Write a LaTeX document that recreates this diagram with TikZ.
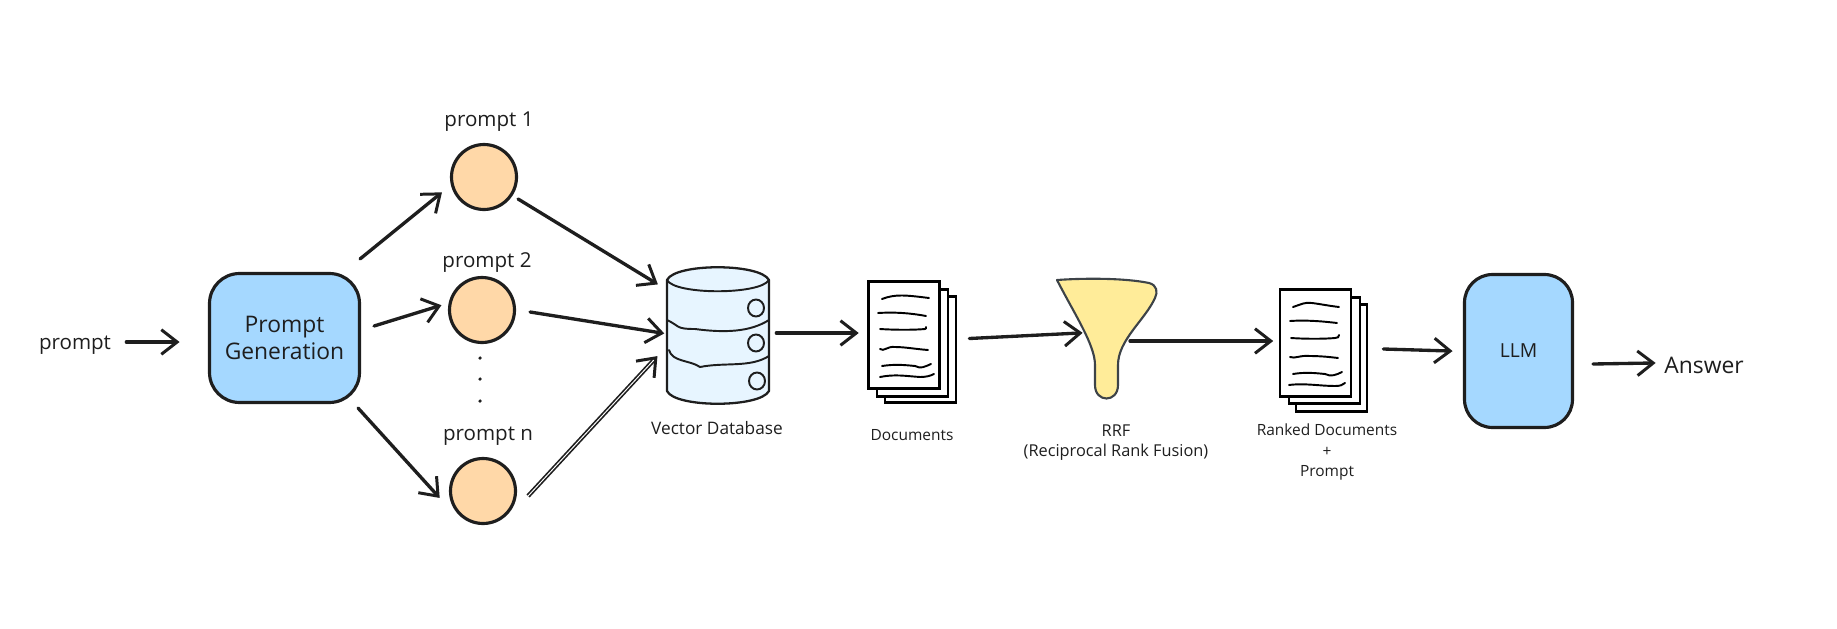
\documentclass[tikz,border=0pt]{standalone}
\usepackage{fontspec}
\setmainfont{Open Sans}
\usepackage{xcolor}
\usetikzlibrary{arrows.meta}
\definecolor{ColInk}{RGB}{30,30,30}
\definecolor{ColBlue}{RGB}{165,216,255}
\definecolor{ColPale}{RGB}{231,245,255}
\definecolor{ColOrange}{RGB}{255,216,168}
\definecolor{ColYellow}{RGB}{255,236,153}
\definecolor{ColSlate}{RGB}{61,67,72}
\tikzstyle{BoxGraph}=[rectangle,draw=ColInk,fill=ColBlue,line width=1.8pt,align=center,
text=ColInk,font=\fontsize{13}{15}\selectfont]
\tikzstyle{NodeGraph}=[circle,draw=ColInk,fill=ColOrange,line width=1.8pt,minimum size=1.3cm,
inner sep=0pt]
\tikzstyle{PageGraph}=[rectangle,draw=black,fill=white,line width=1.6pt,minimum width=1.42cm,
minimum height=2.13cm,inner sep=0pt]
\tikzstyle{DbGraph}=[rectangle,inner sep=0pt,minimum width=2.04cm,minimum height=2.68cm]
\tikzstyle{DotGraph}=[circle,fill=ColInk,inner sep=0pt,minimum size=2pt]
\tikzstyle{BigLabel}=[text=ColInk,inner sep=0pt,font=\fontsize{11.7}{14}\selectfont]
\tikzstyle{SmallLabel}=[text=ColInk,inner sep=0pt,align=center,font=\fontsize{8.8}{11.5}\selectfont]
\tikzstyle{EdgeGraph}=[ColInk,line cap=round,line width=1.9pt,shorten >=-1.5pt,
-{Straight Barb[length=9pt,width=14pt,line width=1.7pt]}]
\tikzstyle{EdgeDouble}=[EdgeGraph,line cap=butt,line width=.95pt,double=white,double distance=.55pt]
\tikzstyle{BandGraph}=[ColInk,line width=1.1pt,line cap=round]
\tikzstyle{DocLine}=[black,line width=1.1pt,line cap=round]

\begin{document}
\begin{tikzpicture}[x=.02cm,y=-.02cm]
        \useasboundingbox(0,0)rectangle(1837,629);
        \node[BigLabel](input)at(75,345){prompt};
        \node[BoxGraph,minimum width=3cm,minimum height=2.58cm,rounded corners=.6cm](gen)at(284.5,338){Prompt\\Generation};
        \node[NodeGraph](p1)at(484,177){};
        \node[NodeGraph](p2)at(482,310){};
        \node[NodeGraph](pn)at(483,491){};
        \node[BigLabel](lp1)at(489,122){prompt 1};
        \node[BigLabel](lp2)at(487,263){prompt 2};
        \node[BigLabel](lpn)at(488,436){prompt n};
        \node[DotGraph](d1)at(480,358){};
        \node[DotGraph](d2)at(480,379){};
        \node[DotGraph](d3)at(480,401){};
        \node[DbGraph](db)at(718,336){};
        \draw[ColInk,fill=ColPale,line width=1.3pt,line join=round](667,280)--(667,391)
            ..controls(675,408)and(760,408)..(769,391)--(769,280)
            ..controls(760,263)and(675,263)..(667,280)--cycle;
        \draw[ColInk,line width=1.1pt](667,280)..controls(675,295)and(760,295)..(769,280);
        \draw[BandGraph](667,320)..controls(680,326)and(675,329)..(695,329)
            ..controls(725,333)and(750,332)..(769,320);
        \draw[BandGraph](669,350)..controls(672,362)and(690,360)..(700,367)
            ..controls(725,362)and(750,368)..(769,356);
        \draw[ColInk,line width=1.1pt](756,308)circle[x radius=8,y radius=8.5];
        \draw[ColInk,line width=1.1pt](756,343)circle[x radius=8,y radius=8.5];
        \draw[ColInk,line width=1.1pt](757,381)circle[x radius=8,y radius=8.5];
        \node[SmallLabel,font=\fontsize{9.8}{12}\selectfont](ldb)at(717,428){Vector Database};
        \node[PageGraph](docc)at(920.5,349.5){};
        \node[PageGraph](docb)at(912.5,343){};
        \node[PageGraph](doca)at(904,335){};
        \draw[DocLine](882,299)..controls(895,294)and(905,295)..(929,298);
        \draw[DocLine](878,313)..controls(895,312)and(910,313)..(926,316);
        \draw[DocLine](880,329)..controls(895,330)and(915,330)..(925,329)..controls(926,329)and(926,328)..(926,327);
        \draw[DocLine](880,349)..controls(884,352)and(887,346)..(895,347)..controls(905,347)and(915,349)..(928,350);
        \draw[DocLine](882,366)..controls(895,364)and(905,365)..(915,366)..controls(921,369)and(924,367)..(931,364);
        \draw[DocLine](880,377)..controls(895,374)and(905,376)..(920,377)..controls(926,377)and(930,376)..(934,374);
        \node[SmallLabel](ldoc)at(912,435){Documents};
        \draw[ColSlate,fill=ColYellow,line width=1.2pt,line join=round](1057,280)
            ..controls(1085,278)and(1125,278)..(1149,283)
            ..controls(1157,285)and(1158,292)..(1155,298)
            ..controls(1145,320)and(1118,340)..(1118,365)
            --(1118,385)..controls(1118,403)and(1095,403)..(1095,385)
            --(1095,365)..controls(1095,345)and(1075,315)..(1057,280)--cycle;
        \coordinate(funin)at(1080,333);
        \coordinate(funout)at(1130,341);
        \node[SmallLabel,font=\fontsize{9.3}{11}\selectfont](lrrf)at(1116,442.5){RRF\\(Reciprocal Rank Fusion)};
        \node[PageGraph](rankc)at(1331.5,358){};
        \node[PageGraph](rankb)at(1324.5,350.5){};
        \node[PageGraph](ranka)at(1315.5,343){};
        \draw[DocLine](1293,307)..controls(1302,304)and(1305,302)..(1312,303)..controls(1320,304)and(1330,306)..(1339,307);
        \draw[DocLine](1290,321)..controls(1305,320)and(1320,321)..(1337,323);
        \draw[DocLine](1291,338)..controls(1305,339)and(1325,339)..(1335,338)..controls(1338,338)and(1339,337)..(1339,335);
        \draw[DocLine](1290,357)..controls(1295,359)and(1300,355)..(1310,356)..controls(1320,356)and(1330,357)..(1338,358);
        \draw[DocLine](1293,374)..controls(1305,372)and(1315,373)..(1325,374)..controls(1331,377)and(1336,375)..(1342,372);
        \draw[DocLine](1289,385)..controls(1305,383)and(1320,386)..(1335,386)..controls(1340,386)and(1343,385)..(1345,383);
        \node[SmallLabel](lrank)at(1327,452){Ranked Documents\\+\\Prompt};
        \node[BoxGraph,minimum width=2.16cm,minimum height=3.06cm,rounded corners=.56cm,font=\fontsize{11}{13}\selectfont](llm)at(1518.5,351){LLM};
        \node[BigLabel,font=\fontsize{13}{15}\selectfont](answer)at(1704,365){Answer};
        \draw[EdgeGraph]([shift={(15,-3)}]input.east)--([shift={(-31,4)}]gen.west);
        \draw[EdgeGraph]([shift={(-1,-13)}]gen.north east)--([shift={(-10,17)}]p1.west);
        \draw[EdgeGraph]([shift={(13,-12)}]gen.east)--([shift={(-9,-4)}]p2.west);
        \draw[EdgeGraph]([shift={(-3,4)}]gen.south east)--([shift={(-11,5)}]pn.west);
        \draw[EdgeGraph]([shift={(0,22)}]p1.east)--([shift={(-11,-53)}]db.west);
        \draw[EdgeGraph]([shift={(14,2)}]p2.east)--([shift={(-5,-3)}]db.west);
        \draw[EdgeDouble]([shift={(11,5)}]pn.east)--([shift={(-11,22)}]db.west);
        \draw[EdgeGraph]([shift={(7,-3)}]db.east)--([shift={(-11,-2)}]doca.west);
        \draw[EdgeGraph]([shift={(12,-11)}]docc.east)--(funin);
        \draw[EdgeGraph](funout)--([shift={(-8,-2)}]ranka.west);
        \draw[EdgeGraph]([shift={(15,-9)}]rankc.east)--([shift={(-13,0)}]llm.west);
        \draw[EdgeGraph]([shift={(19,13)}]llm.east)--([shift={(-11,-2)}]answer.west);
    \end{tikzpicture}
\end{document}
